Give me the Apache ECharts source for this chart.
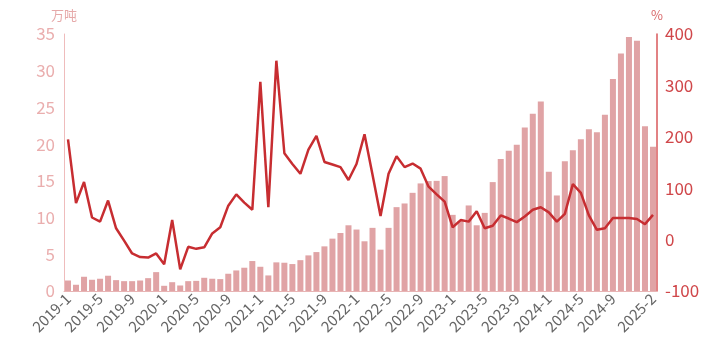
<!DOCTYPE html>
<html>
<head>
<meta charset="utf-8">
<script src="https://cdn.jsdelivr.net/npm/echarts@6/dist/echarts.min.js"></script>
<style>
html, body { margin: 0; padding: 0; background: #fff; }
#chart { width: 724px; height: 353px; }
</style>
</head>
<body>
<div id="chart"></div>
<script>
// 月份 2019-1 ~ 2025-2
var months = [];
for (var y = 2019; y <= 2025; y++) {
    for (var m = 1; m <= 12; m++) {
        if (y === 2025 && m > 2) break;
        months.push(y + '-' + m);
    }
}

// 量（万吨）
var volume = [
    1.43, 0.85, 1.94, 1.53, 1.67, 2.08, 1.48, 1.34, 1.34, 1.43, 1.75, 2.57,
    0.71, 1.2, 0.75, 1.34, 1.38, 1.8, 1.67, 1.62, 2.35, 2.8, 3.17, 4.08,
    3.3, 2.12, 3.9, 3.85, 3.67, 4.2, 4.85, 5.3, 6.08, 7.13, 7.9, 8.95,
    8.37, 6.77, 8.6, 5.63, 8.6, 11.42, 11.92, 13.37, 14.65, 14.97, 15.0, 15.65,
    10.37, 9.55, 11.65, 8.95, 10.64, 14.83, 17.98, 19.1, 19.93, 22.26, 24.13, 25.81,
    16.24, 13.01, 17.66, 19.17, 20.67, 22.04, 21.63, 24.0, 28.88, 32.33, 34.6, 34.07,
    22.45, 19.66
];

// 同比（%）
var yoy = [
    195, 71, 112, 43, 35, 76, 22, -2, -27, -34, -35, -27,
    -48, 38, -58, -14, -18, -15, 12, 24, 66, 88, 72, 58,
    307, 63, 348, 168, 147, 128, 175, 202, 151, 146, 141, 116,
    147, 205, 126, 46, 128, 162, 141, 148, 138, 103, 88, 74,
    24, 38, 35, 55, 22, 27, 47, 41, 34, 45, 58, 63,
    53, 35, 50, 108, 91, 47, 19, 22, 42, 42, 42, 40,
    30, 48
];

var chart = echarts.init(document.getElementById('chart'));
var lastIdx = months.length - 1;
var font = '"Noto Sans CJK SC", "Noto Sans", sans-serif';

var option = {
    animation: false,
    textStyle: { fontFamily: font },
    grid: { left: 64, right: 67, top: 34, bottom: 62 },
    xAxis: {
        type: 'category',
        data: months,
        boundaryGap: true,
        axisLine: { lineStyle: { color: '#e8b4b4' } },
        axisTick: {
            alignWithLabel: true,
            interval: function (i) { return i % 4 === 2; },
            lineStyle: { color: '#999' }
        },
        axisLabel: {
            rotate: 45,
            color: '#666',
            fontSize: 15,
            margin: 5,
            interval: function (i) { return (i % 4 === 0 && i <= 68) || i === lastIdx; }
        }
    },
    yAxis: [
        {
            type: 'value',
            name: '万吨',
            nameGap: 12,
            nameTextStyle: { color: '#e6a9a9', fontSize: 13, align: 'center' },
            min: 0,
            max: 35,
            interval: 5,
            axisLine: { show: true, lineStyle: { color: '#efbcbc' } },
            axisTick: { show: false },
            splitLine: { show: false },
            axisLabel: { color: '#eaaeae', fontSize: 17, margin: 9 }
        },
        {
            type: 'value',
            name: '%',
            nameGap: 12,
            nameTextStyle: { color: '#d8686a', fontSize: 13, align: 'center' },
            min: -100,
            max: 400,
            interval: 100,
            position: 'right',
            axisLine: { show: true, lineStyle: { color: '#d9595b', width: 1.5 } },
            axisTick: { show: false },
            splitLine: { show: false },
            axisLabel: { color: '#d0474a', fontSize: 17, margin: 8 }
        }
    ],
    series: [
        {
            name: '量',
            type: 'bar',
            yAxisIndex: 0,
            data: volume,
            barCategoryGap: '25%',
            itemStyle: { color: '#e0a3a5' }
        },
        {
            name: '同比',
            type: 'line',
            yAxisIndex: 1,
            data: yoy,
            symbol: 'none',
            lineStyle: { color: '#c72d31', width: 2.5 },
            itemStyle: { color: '#c72d31' }
        }
    ]
};

chart.setOption(option);
window.addEventListener('resize', function () {
    chart.resize();
});
</script>
</body>
</html>
